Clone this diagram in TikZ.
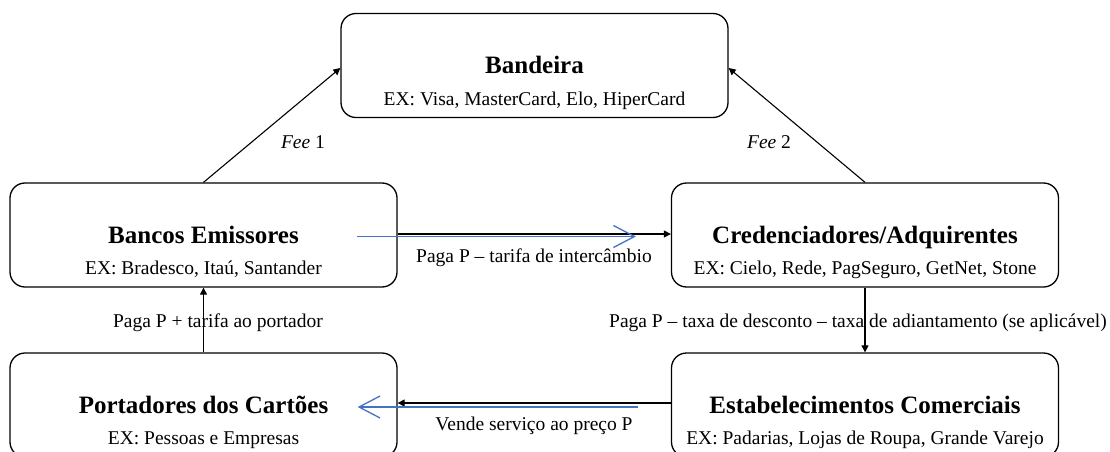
\documentclass[tikz,border=0pt]{standalone}
\usepackage{fontspec}
\setmainfont{Liberation Serif}
\usetikzlibrary{arrows.meta,calc}
\definecolor{blueline}{RGB}{68,114,196}
\begin{document}
\begin{tikzpicture}[x=1pt,y=-1pt,
  box/.style={draw=black, line width=1.3pt, rounded corners=15pt, minimum width=387pt, minimum height=104pt, inner sep=0pt},
  ttl/.style={anchor=base, font=\fontsize{25}{30}\selectfont\bfseries, inner sep=0pt},
  ex/.style={anchor=base, font=\fontsize{19.5}{23}\selectfont, inner sep=0pt},
  lab/.style={anchor=base, font=\fontsize{19.5}{23}\selectfont, inner sep=0pt},
  arr/.style={draw=black, line width=1.1pt, -{Triangle[length=7pt,width=7pt]}},
  bluearr/.style={draw=blueline, line width=1.3pt, -{Straight Barb[length=21pt,width=22pt,line width=1.3pt]}}
]
\useasboundingbox (0,0) rectangle (1110,452);

% boxes
\node[box] (band) at (534.5,65.5) {};
\node[box] (banc) at (203.5,235) {};
\node[box] (cred) at (865,235) {};
\node[box] (port) at (203.5,405) {};
\node[box] (estab) at (865,405) {};

% texts in boxes
\node[ttl] (bandT) at ([yshift=-8pt]band.center) {Bandeira};
\node[ex] (bandE) at ([yshift=-39.5pt]band.center) {EX: Visa, MasterCard, Elo, HiperCard};
\node[ttl] (bancT) at ([yshift=-8pt]banc.center) {Bancos Emissores};
\node[ex] (bancE) at ([yshift=-39.5pt]banc.center) {EX: Bradesco, Itaú, Santander};
\node[ttl] (credT) at ([yshift=-8pt]cred.center) {Credenciadores/Adquirentes};
\node[ex] (credE) at ([yshift=-39.5pt]cred.center) {EX: Cielo, Rede, PagSeguro, GetNet, Stone};
\node[ttl] (portT) at ([yshift=-8pt]port.center) {Portadores dos Cartões};
\node[ex] (portE) at ([yshift=-39.5pt]port.center) {EX: Pessoas e Empresas};
\node[ttl] (estabT) at ([yshift=-8pt]estab.center) {Estabelecimentos Comerciais};
\node[ex] (estabE) at ([yshift=-39.5pt]estab.center) {EX: Padarias, Lojas de Roupa, Grande Varejo};

% black connectors
\draw[arr] (banc.north) -- ([yshift=-2.5pt]band.west);
\draw[arr] (cred.north) -- ([yshift=-2.5pt]band.east);
\draw[arr] ([yshift=1pt]banc.east) -- ([yshift=1pt]cred.west);
\draw[arr] (cred.south) -- (estab.north);
\draw[arr] (port.north) -- (banc.south);
\draw[arr] ([yshift=2pt]estab.west) -- ([yshift=2pt]port.east);

% blue arrows
\coordinate (bs1) at ([xshift=-41pt,yshift=-1.5pt]banc.east);
\coordinate (be1) at ([xshift=-35pt,yshift=-1.5pt]cred.west);
\coordinate (bs2) at ([xshift=-33pt,yshift=-2pt]estab.west);
\coordinate (be2) at ([xshift=-40pt,yshift=-2pt]port.east);
\draw[bluearr] (bs1) -- (be1);
\draw[bluearr] (bs2) -- (be2);

% labels
\node[lab] (fee1) at (303,148) {\textit{Fee} 1};
\node[lab] (fee2) at (769,148) {\textit{Fee} 2};
\node[lab] (l1) at (534,262) {Paga P – tarifa de intercâmbio};
\node[lab] (l2) at (218,327) {Paga P + tarifa ao portador};
\node[lab] (l3) at (858,327) {Paga P – taxa de desconto – taxa de adiantamento (se aplicável)};
\node[lab] (l4) at (534,430) {Vende serviço ao preço P};
\end{tikzpicture}
\end{document}
